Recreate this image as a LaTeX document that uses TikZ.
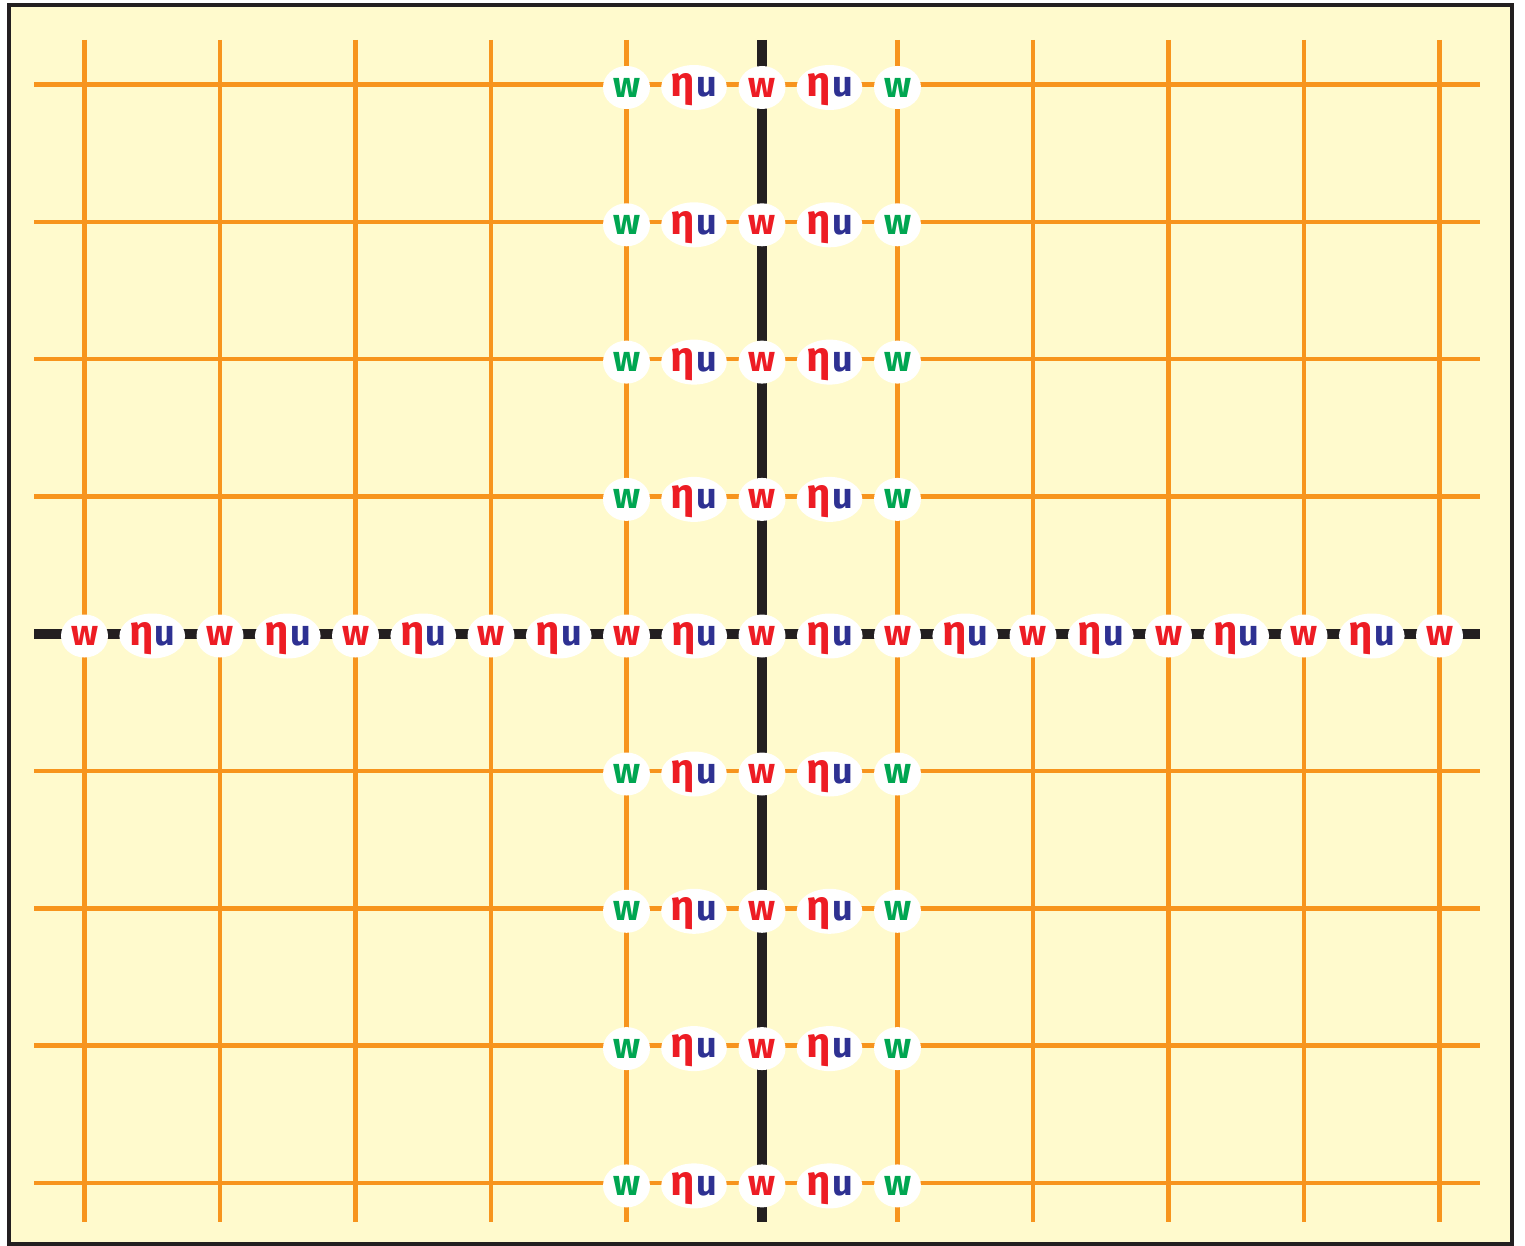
\documentclass[tikz,border=0pt]{standalone}
\usepackage{fontspec}
\setmainfont{Fira Sans}
\usetikzlibrary{shapes.geometric}
\definecolor{bgyel}{HTML}{FFFACD}
\definecolor{gridor}{HTML}{F7941D}
\definecolor{wgreen}{HTML}{00A651}
\definecolor{wred}{HTML}{ED1C24}
\definecolor{ublue}{HTML}{2E3192}
\definecolor{axblack}{HTML}{231F20}
\tikzset{
  gridline/.style={draw=gridor, line width=4.5pt},
  axisline/.style={draw=axblack, line width=10pt},
  frameline/.style={draw=axblack, line width=4pt, fill=bgyel},
  wnode/.style={ellipse, fill=white, minimum width=47pt, minimum height=43pt, inner sep=0pt,
    font=\fontsize{36}{36}\selectfont\bfseries},
  eunode/.style={ellipse, fill=white, minimum width=55pt, minimum height=45pt, inner sep=0pt,
    font=\fontsize{36}{36}\selectfont\bfseries},
}
\newcommand{\etau}{\raisebox{0pt}[17pt][0pt]{\textcolor{wred}{\fontsize{42}{42}\selectfont η}}\kern1.5pt\textcolor{ublue}{u}}
\begin{document}
\begin{tikzpicture}[x=1pt,y=-1pt]
\useasboundingbox (0,0) rectangle (1525,1246);
\path[frameline] (9,5) rectangle (1512,1244);
% vertical grid lines
\foreach \i in {0,...,10}{
  \pgfmathsetmacro{\xx}{84.5+135.5*\i}
  \coordinate (vt\i) at (\xx,40);
  \coordinate (vb\i) at (\xx,1222);
}
\foreach \j in {0,...,8}{
  \pgfmathsetmacro{\yy}{84.5+137.3*\j}
  \coordinate (hl\j) at (34,\yy);
  \coordinate (hr\j) at (1480,\yy);
}
\foreach \i in {0,1,2,3,4,6,7,8,9,10}{
  \draw[gridline] (vt\i) -- (vb\i);
}
\foreach \j in {0,1,2,3,5,6,7,8}{
  \draw[gridline] (hl\j) -- (hr\j);
}
\draw[axisline] (vt5) -- (vb5);
\draw[axisline] (hl4) -- (hr4);
% labels on non-central rows
\foreach \j in {0,1,2,3,5,6,7,8}{
  \pgfmathsetmacro{\yy}{84.5+137.3*\j+3}
  \node[wnode, text=wgreen] (wa\j) at (626.5,\yy) {w};
  \node[eunode] (ea\j) at (694,\yy) {\etau};
  \node[wnode, text=wred] (wb\j) at (762,\yy) {w};
  \node[eunode] (eb\j) at (829.5,\yy) {\etau};
  \node[wnode, text=wgreen] (wc\j) at (897.5,\yy) {w};
}
% central row
\foreach \i in {0,...,10}{
  \pgfmathsetmacro{\xx}{84.5+135.5*\i}
  \node[wnode, text=wred] (wm\i) at (\xx,636) {w};
}
\foreach \i in {0,...,9}{
  \pgfmathsetmacro{\xx}{84.5+135.5*\i+67.75}
  \node[eunode] (em\i) at (\xx,636) {\etau};
}
\end{tikzpicture}
\end{document}
